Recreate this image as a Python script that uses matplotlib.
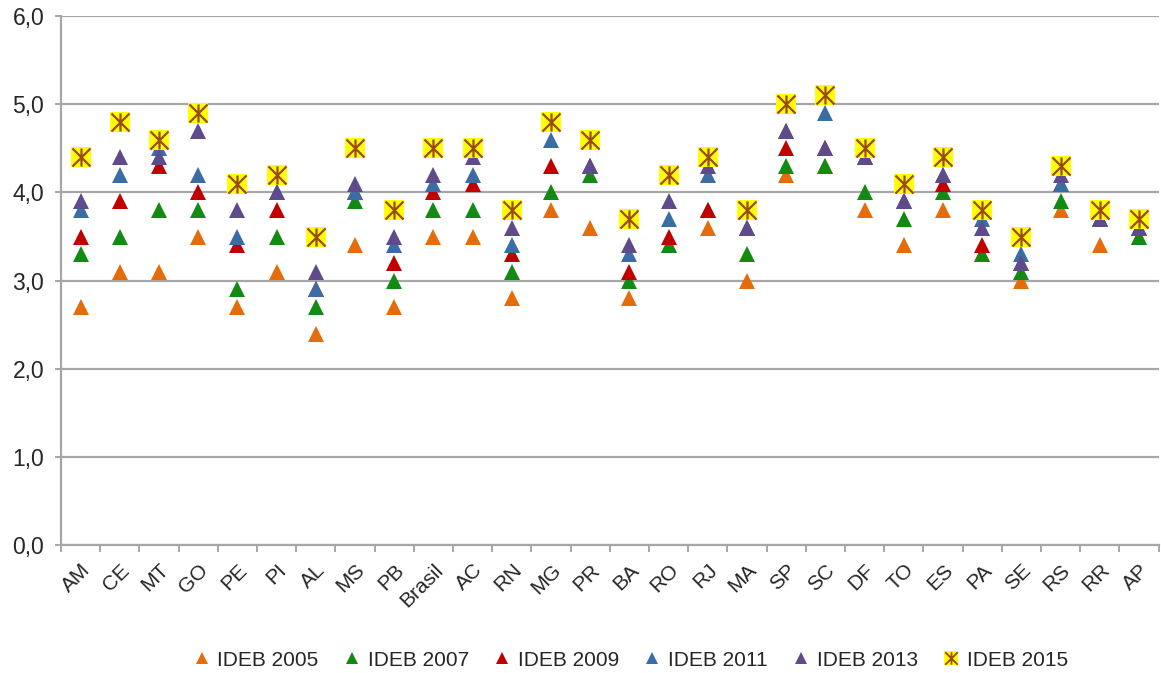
import numpy as np
import matplotlib
matplotlib.use("Agg")
import matplotlib.pyplot as plt
from matplotlib.path import Path
from matplotlib.lines import Line2D

plt.rcParams['font.family'] = ['Liberation Sans', 'DejaVu Sans']

# IDEB por unidade da federação
estados = ["AM", "CE", "MT", "GO", "PE", "PI", "AL", "MS", "PB", "Brasil",
           "AC", "RN", "MG", "PR", "BA", "RO", "RJ", "MA", "SP", "SC",
           "DF", "TO", "ES", "PA", "SE", "RS", "RR", "AP"]

ideb_2005 = [2.7, 3.1, 3.1, 3.5, 2.7, 3.1, 2.4, 3.4, 2.7, 3.5,
             3.5, 2.8, 3.8, 3.6, 2.8, 3.4, 3.6, 3.0, 4.2, 4.3,
             3.8, 3.4, 3.8, 3.3, 3.0, 3.8, 3.4, 3.5]
ideb_2007 = [3.3, 3.5, 3.8, 3.8, 2.9, 3.5, 2.7, 3.9, 3.0, 3.8,
             3.8, 3.1, 4.0, 4.2, 3.0, 3.4, 3.8, 3.3, 4.3, 4.3,
             4.0, 3.7, 4.0, 3.3, 3.1, 3.9, 3.7, 3.5]
ideb_2009 = [3.5, 3.9, 4.3, 4.0, 3.4, 3.8, 2.9, 4.0, 3.2, 4.0,
             4.1, 3.3, 4.3, 4.3, 3.1, 3.5, 3.8, 3.6, 4.5, 4.5,
             4.4, 3.9, 4.1, 3.4, 3.2, 4.1, 3.7, 3.6]
ideb_2011 = [3.8, 4.2, 4.5, 4.2, 3.5, 4.0, 2.9, 4.0, 3.4, 4.1,
             4.2, 3.4, 4.6, 4.3, 3.3, 3.7, 4.2, 3.6, 4.7, 4.9,
             4.4, 3.9, 4.2, 3.7, 3.3, 4.1, 3.7, 3.6]
ideb_2013 = [3.9, 4.4, 4.4, 4.7, 3.8, 4.0, 3.1, 4.1, 3.5, 4.2,
             4.4, 3.6, 4.8, 4.3, 3.4, 3.9, 4.3, 3.6, 4.7, 4.5,
             4.4, 3.9, 4.2, 3.6, 3.2, 4.2, 3.7, 3.6]
ideb_2015 = [4.4, 4.8, 4.6, 4.9, 4.1, 4.2, 3.5, 4.5, 3.8, 4.5,
             4.5, 3.8, 4.8, 4.6, 3.7, 4.2, 4.4, 3.8, 5.0, 5.1,
             4.5, 4.1, 4.4, 3.8, 3.5, 4.3, 3.8, 3.7]

series = [
    ("IDEB 2005", ideb_2005, "#E46C0A"),
    ("IDEB 2007", ideb_2007, "#138A14"),
    ("IDEB 2009", ideb_2009, "#C00000"),
    ("IDEB 2011", ideb_2011, "#3A6DA4"),
    ("IDEB 2013", ideb_2013, "#5F4B8B"),
]

# marcador "estrela" do Excel: X com barra vertical
estrela = Path([(-1, -1), (1, 1), (-1, 1), (1, -1), (0, -1), (0, 1)],
               [Path.MOVETO, Path.LINETO, Path.MOVETO, Path.LINETO,
                Path.MOVETO, Path.LINETO])

fig = plt.figure(figsize=(11.61, 6.73), dpi=100)
ax = fig.add_axes([0.0525, 0.19, 0.9455, 0.786])

x = np.arange(len(estados))
handles = []
for nome, vals, cor in series:
    ax.plot(x, vals, linestyle="none", marker="^", markersize=11.5,
            color=cor, markeredgewidth=0, zorder=3)
    handles.append(Line2D([], [], linestyle="none", marker="^", markersize=8,
                          color=cor, markeredgewidth=0, label=nome))

ax.plot(x, ideb_2015, linestyle="none", marker="s", markersize=14.5,
        markerfacecolor="#FFFF00", markeredgewidth=0, zorder=4)
ax.plot(x, ideb_2015, linestyle="none", marker=estrela, markersize=13,
        markeredgecolor="#9A4A12", markeredgewidth=1.6, fillstyle="none", zorder=5)
h_sq = Line2D([], [], linestyle="none", marker="s", markersize=10,
              markerfacecolor="#FFFF00", markeredgewidth=0)
h_st = Line2D([], [], linestyle="none", marker=estrela, markersize=9,
              markeredgecolor="#9A4A12", markeredgewidth=1.3, fillstyle="none")
handles.append((h_sq, h_st))

ax.set_xlim(-0.5, len(estados) - 0.5)
ax.set_ylim(0, 6)
ax.set_yticks(np.arange(0, 7, 1))
ax.set_yticklabels([f"{v:.1f}".replace(".", ",") for v in np.arange(0, 7, 1)])
ax.set_xticks(x)
ax.set_xticklabels(estados, rotation=45, ha="right", rotation_mode="anchor")
ax.set_xticks(np.arange(-0.5, len(estados), 1), minor=True)

ax.grid(axis="y", color="#A6A6A6", linewidth=1.6, zorder=1)
ax.set_axisbelow(True)
for s in ["top", "right"]:
    ax.spines[s].set_visible(False)
for s in ["left", "bottom"]:
    ax.spines[s].set_color("#A6A6A6")
    ax.spines[s].set_linewidth(1.6)

ax.tick_params(axis="y", length=4, width=1.4, color="#A6A6A6", pad=8,
               labelsize=16.5, labelcolor="#262626")
ax.tick_params(axis="x", which="major", length=0, pad=11, labelsize=15,
               labelcolor="#262626")
ax.tick_params(axis="x", which="minor", length=5, width=1.4, color="#A6A6A6")

fig.legend(handles, [s[0] for s in series] + ["IDEB 2015"],
           loc="center", bbox_to_anchor=(0.544, 0.019), ncol=6, frameon=False,
           fontsize=15, handlelength=0.6, handletextpad=0.45, columnspacing=1.3,
           labelcolor="#262626")

fig.savefig("out.png", dpi=100)
